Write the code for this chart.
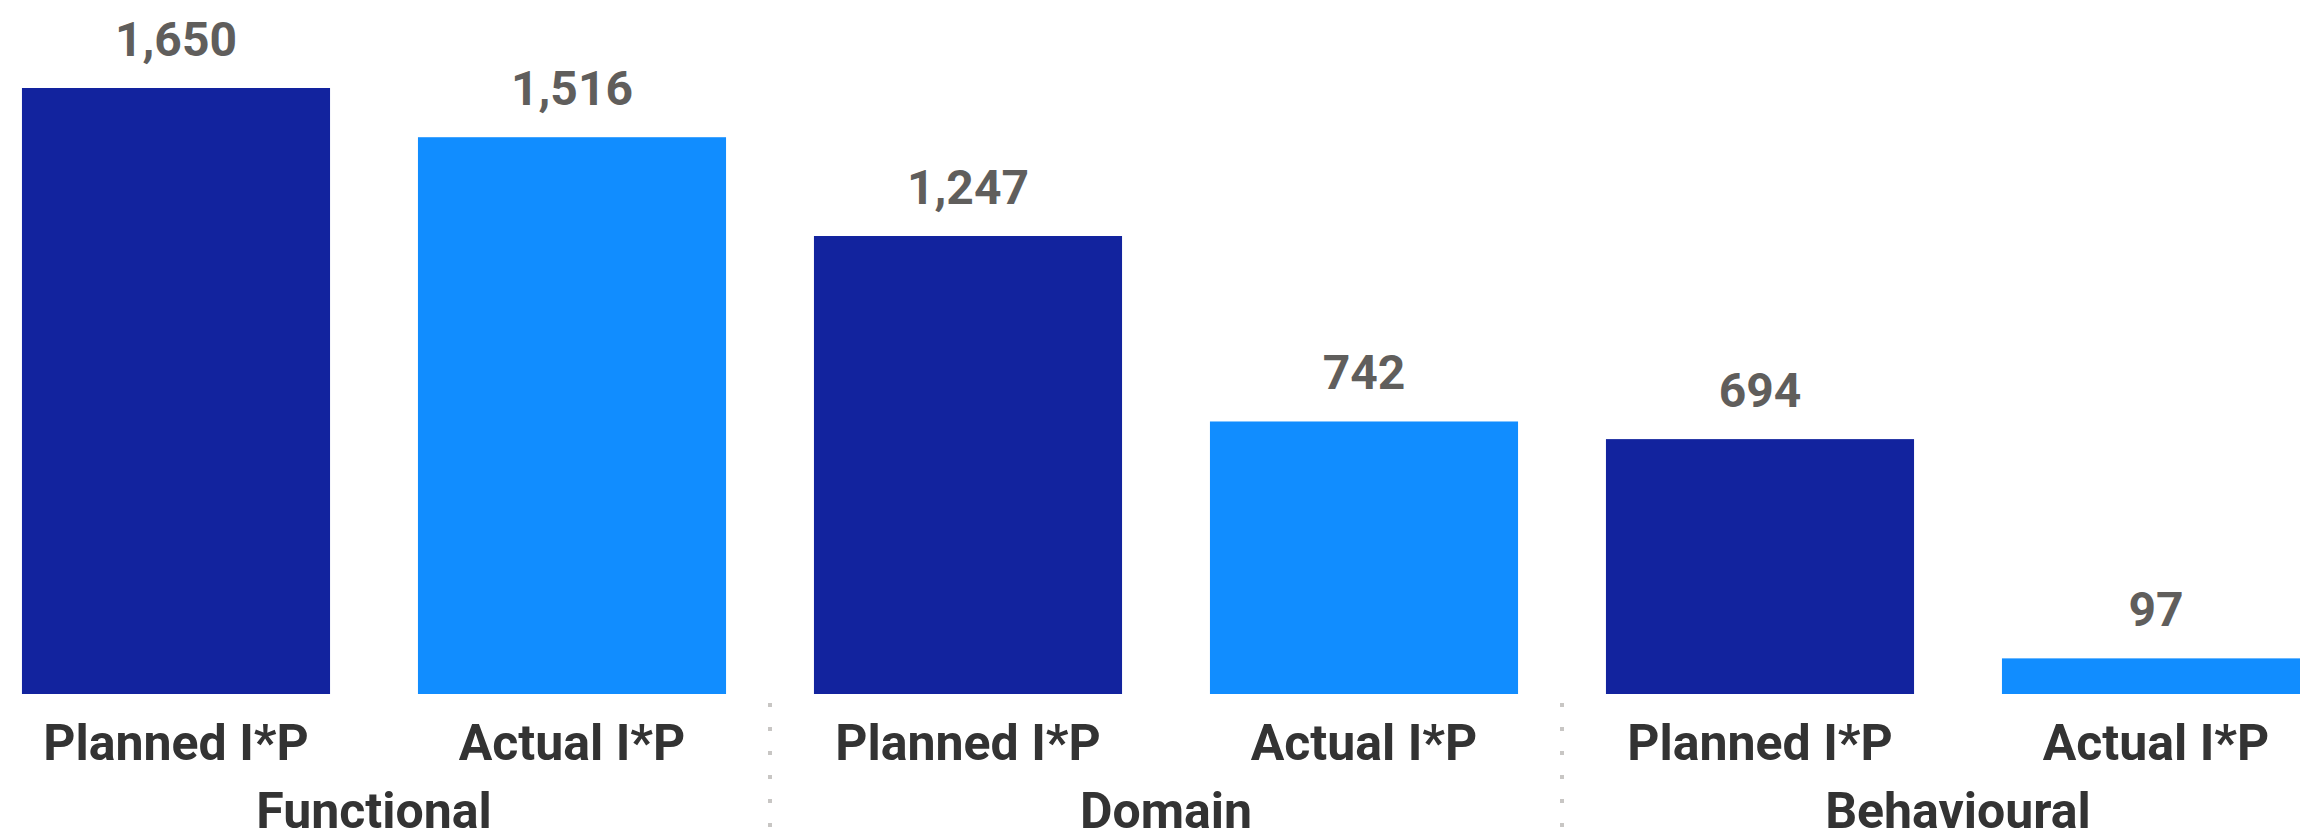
<!DOCTYPE html>
<html>
<head>
<meta charset="utf-8">
<script src="https://cdn.jsdelivr.net/npm/d3@7"></script>
<style>
    html, body { margin: 0; padding: 0; background: #fff; overflow: hidden; }
    text { font-family: Roboto, "Open Sans", sans-serif; font-weight: bold; }
</style>
</head>
<body>
<script>
const groups = ["Functional", "Domain", "Behavioural"];
const measures = ["Planned I*P", "Actual I*P"];
const planned = [1650, 1247, 694];
const actual = [1516, 742, 97];

const w = 2300;
const h = 835;
const colors = { "Planned I*P": "#12239E", "Actual I*P": "#118DFF" };

// one row per bar, in drawing order
const rows = [];
groups.forEach((g, i) => {
    rows.push({ group: g, measure: measures[0], value: planned[i] });
    rows.push({ group: g, measure: measures[1], value: actual[i] });
});
const key = d => `${d.group}|${d.measure}`;

const svg = d3
    .select("body")
    .append("svg")
    .attr("width", w)
    .attr("height", h);

// the plot runs past the right edge, like the original visual
const x = d3
    .scaleBand()
    .domain(rows.map(key))
    .range([-22, 2354])
    .paddingInner(0.222)
    .paddingOuter(0.111);

const y = d3
    .scaleLinear()
    .domain([0, 1650])
    .range([694, 88]);

svg
    .selectAll("rect.bar")
    .data(rows)
    .enter()
    .append("rect")
    .attr("class", "bar")
    .attr("x", d => x(key(d)))
    .attr("y", d => y(d.value))
    .attr("width", x.bandwidth())
    .attr("height", d => y(0) - y(d.value))
    .attr("fill", d => colors[d.measure]);

// data labels
svg
    .selectAll("text.value")
    .data(rows)
    .enter()
    .append("text")
    .attr("class", "value")
    .attr("x", d => x(key(d)) + x.bandwidth() / 2)
    .attr("y", d => y(d.value) - 32)
    .attr("text-anchor", "middle")
    .attr("font-size", "48px")
    .attr("fill", "#605E5C")
    .text(d => d3.format(",")(d.value));

// measure labels under each bar
svg
    .selectAll("text.measure")
    .data(rows)
    .enter()
    .append("text")
    .attr("class", "measure")
    .attr("x", d => x(key(d)) + x.bandwidth() / 2)
    .attr("y", 760)
    .attr("text-anchor", "middle")
    .attr("font-size", "50px")
    .attr("fill", "#333333")
    .text(d => d.measure);

// group labels, centred on each pair of bars' slot
const groupSpan = x.step() * measures.length;
const groupStart = g => x(`${g}|${measures[0]}`) - x.step() * x.paddingInner() / 2;

svg
    .selectAll("text.group")
    .data(groups)
    .enter()
    .append("text")
    .attr("class", "group")
    .attr("x", g => groupStart(g) + groupSpan / 2)
    .attr("y", 828)
    .attr("text-anchor", "middle")
    .attr("font-size", "50px")
    .attr("fill", "#333333")
    .text(g => g);

// dotted separators between groups
svg
    .selectAll("line.sep")
    .data(groups.slice(1))
    .enter()
    .append("line")
    .attr("class", "sep")
    .attr("x1", g => groupStart(g))
    .attr("x2", g => groupStart(g))
    .attr("y1", 703)
    .attr("y2", h)
    .attr("stroke", "#C8C6C4")
    .attr("stroke-width", 4)
    .attr("stroke-dasharray", "4 20");
</script>
</body>
</html>
